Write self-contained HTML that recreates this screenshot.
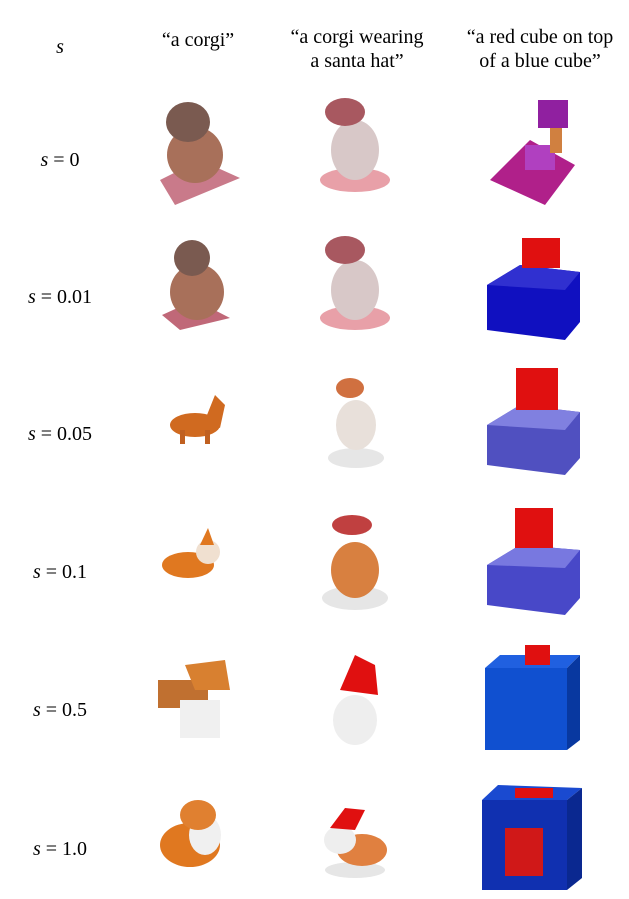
<!DOCTYPE html>
<html><head><meta charset="utf-8"><style>
body{margin:0;background:#fff;width:629px;height:899px;overflow:hidden}
svg{display:block}
text{font-family:"Liberation Serif",serif;fill:#000}
</style></head><body>
<svg width="629" height="899">
<g font-size="20">
<text x="60" y="53" text-anchor="middle" font-style="italic">s</text>
<text x="198" y="46" text-anchor="middle">“a corgi”</text>
<text x="357" y="43" text-anchor="middle">“a corgi wearing</text>
<text x="357" y="67" text-anchor="middle">a santa hat”</text>
<text x="540" y="43" text-anchor="middle">“a red cube on top</text>
<text x="540" y="67" text-anchor="middle">of a blue cube”</text>
</g>
<g font-size="20">
<text x="60" y="166" text-anchor="middle"><tspan font-style="italic">s</tspan> = 0</text>
<text x="60" y="303" text-anchor="middle"><tspan font-style="italic">s</tspan> = 0.01</text>
<text x="60" y="440" text-anchor="middle"><tspan font-style="italic">s</tspan> = 0.05</text>
<text x="60" y="578" text-anchor="middle"><tspan font-style="italic">s</tspan> = 0.1</text>
<text x="60" y="716" text-anchor="middle"><tspan font-style="italic">s</tspan> = 0.5</text>
<text x="60" y="855" text-anchor="middle"><tspan font-style="italic">s</tspan> = 1.0</text>
</g>
<!-- row 0 -->
<g>
<polygon points="160,180 200,160 240,178 175,205" fill="#c97a8a"/>
<ellipse cx="195" cy="155" rx="28" ry="28" fill="#a8705a"/>
<ellipse cx="188" cy="122" rx="22" ry="20" fill="#7a5a50"/>
</g>
<g>
<ellipse cx="355" cy="180" rx="35" ry="12" fill="#e8a0a8"/>
<ellipse cx="355" cy="150" rx="24" ry="30" fill="#d8c8c8"/>
<ellipse cx="345" cy="112" rx="20" ry="14" fill="#a85860"/>
</g>
<g>
<polygon points="490,180 530,140 575,165 545,205" fill="#b0208a"/>
<rect x="525" y="145" width="30" height="25" fill="#b040c0"/>
<rect x="538" y="100" width="30" height="28" fill="#9020a0"/>
<rect x="550" y="128" width="12" height="25" fill="#d08040"/>
</g>
<!-- row 1 -->
<g>
<polygon points="162,315 195,300 230,318 180,330" fill="#c06878"/>
<ellipse cx="197" cy="292" rx="27" ry="28" fill="#a8705a"/>
<ellipse cx="192" cy="258" rx="18" ry="18" fill="#7a5a50"/>
</g>
<g>
<ellipse cx="355" cy="318" rx="35" ry="12" fill="#e8a0a8"/>
<ellipse cx="355" cy="290" rx="24" ry="30" fill="#d8c8c8"/>
<ellipse cx="345" cy="250" rx="20" ry="14" fill="#a85860"/>
</g>
<g>
<polygon points="487,285 520,265 580,272 580,322 565,340 487,330" fill="#1010c0"/>
<polygon points="487,285 520,265 580,272 565,290" fill="#3030d0"/>
<rect x="522" y="238" width="38" height="30" fill="#e01010"/>
</g>
<!-- row 2 -->
<g>
<ellipse cx="195" cy="425" rx="25" ry="12" fill="#d06a20"/>
<polygon points="205,420 215,395 225,405 220,428" fill="#d06a20"/>
<rect x="180" y="430" width="5" height="14" fill="#c06020"/>
<rect x="205" y="430" width="5" height="14" fill="#c06020"/>
</g>
<g>
<ellipse cx="356" cy="458" rx="28" ry="10" fill="#e6e6e6"/>
<ellipse cx="356" cy="425" rx="20" ry="25" fill="#e8e0da"/>
<ellipse cx="350" cy="388" rx="14" ry="10" fill="#d07040"/>
</g>
<g>
<polygon points="487,425 520,405 580,412 580,458 565,475 487,465" fill="#5050c0"/>
<polygon points="487,425 520,405 580,412 565,430" fill="#8080e0"/>
<rect x="516" y="368" width="42" height="42" fill="#e01010"/>
</g>
<!-- row 3 -->
<g>
<ellipse cx="188" cy="565" rx="26" ry="13" fill="#e07820"/>
<ellipse cx="208" cy="552" rx="12" ry="12" fill="#f0e0d0"/>
<polygon points="200,545 208,528 214,545" fill="#e07820"/>
</g>
<g>
<ellipse cx="355" cy="598" rx="33" ry="12" fill="#e6e6e6"/>
<ellipse cx="355" cy="570" rx="24" ry="28" fill="#d88040"/>
<ellipse cx="352" cy="525" rx="20" ry="10" fill="#c04040"/>
</g>
<g>
<polygon points="487,565 520,545 580,550 580,598 565,615 487,605" fill="#4848c8"/>
<polygon points="487,565 520,545 580,550 565,568" fill="#7878e0"/>
<rect x="515" y="508" width="38" height="40" fill="#e01010"/>
</g>
<!-- row 4 -->
<g>
<rect x="158" y="680" width="50" height="28" fill="#c07030"/>
<rect x="180" y="700" width="40" height="38" fill="#f0f0f0"/>
<polygon points="185,665 225,660 230,690 195,690" fill="#d88030"/>
</g>
<g>
<ellipse cx="355" cy="720" rx="22" ry="25" fill="#eeeeee"/>
<polygon points="340,690 355,655 375,665 378,695" fill="#e01010"/>
</g>
<g>
<rect x="485" y="668" width="82" height="82" fill="#1050d0"/>
<polygon points="485,668 500,655 580,655 567,668" fill="#2060e0"/>
<polygon points="567,668 580,655 580,740 567,750" fill="#0838a0"/>
<rect x="525" y="645" width="25" height="20" fill="#e01010"/>
</g>
<!-- row 5 -->
<g>
<ellipse cx="190" cy="845" rx="30" ry="22" fill="#e07820"/>
<ellipse cx="205" cy="835" rx="16" ry="20" fill="#f0f0f0"/>
<ellipse cx="198" cy="815" rx="18" ry="15" fill="#e08030"/>
</g>
<g>
<ellipse cx="355" cy="870" rx="30" ry="8" fill="#e6e6e6"/>
<ellipse cx="362" cy="850" rx="25" ry="16" fill="#e08040"/>
<ellipse cx="340" cy="840" rx="16" ry="14" fill="#eeeeee"/>
<polygon points="330,828 345,808 365,810 355,830" fill="#e01010"/>
</g>
<g>
<rect x="482" y="800" width="85" height="90" fill="#1030b0"/>
<polygon points="482,800 498,785 582,788 567,800" fill="#1a4ad0"/>
<polygon points="567,800 582,788 582,878 567,890" fill="#0a2890"/>
<rect x="505" y="828" width="38" height="48" fill="#d01818"/>
<rect x="515" y="788" width="38" height="10" fill="#e01010"/>
</g>
</svg>
</body></html>
